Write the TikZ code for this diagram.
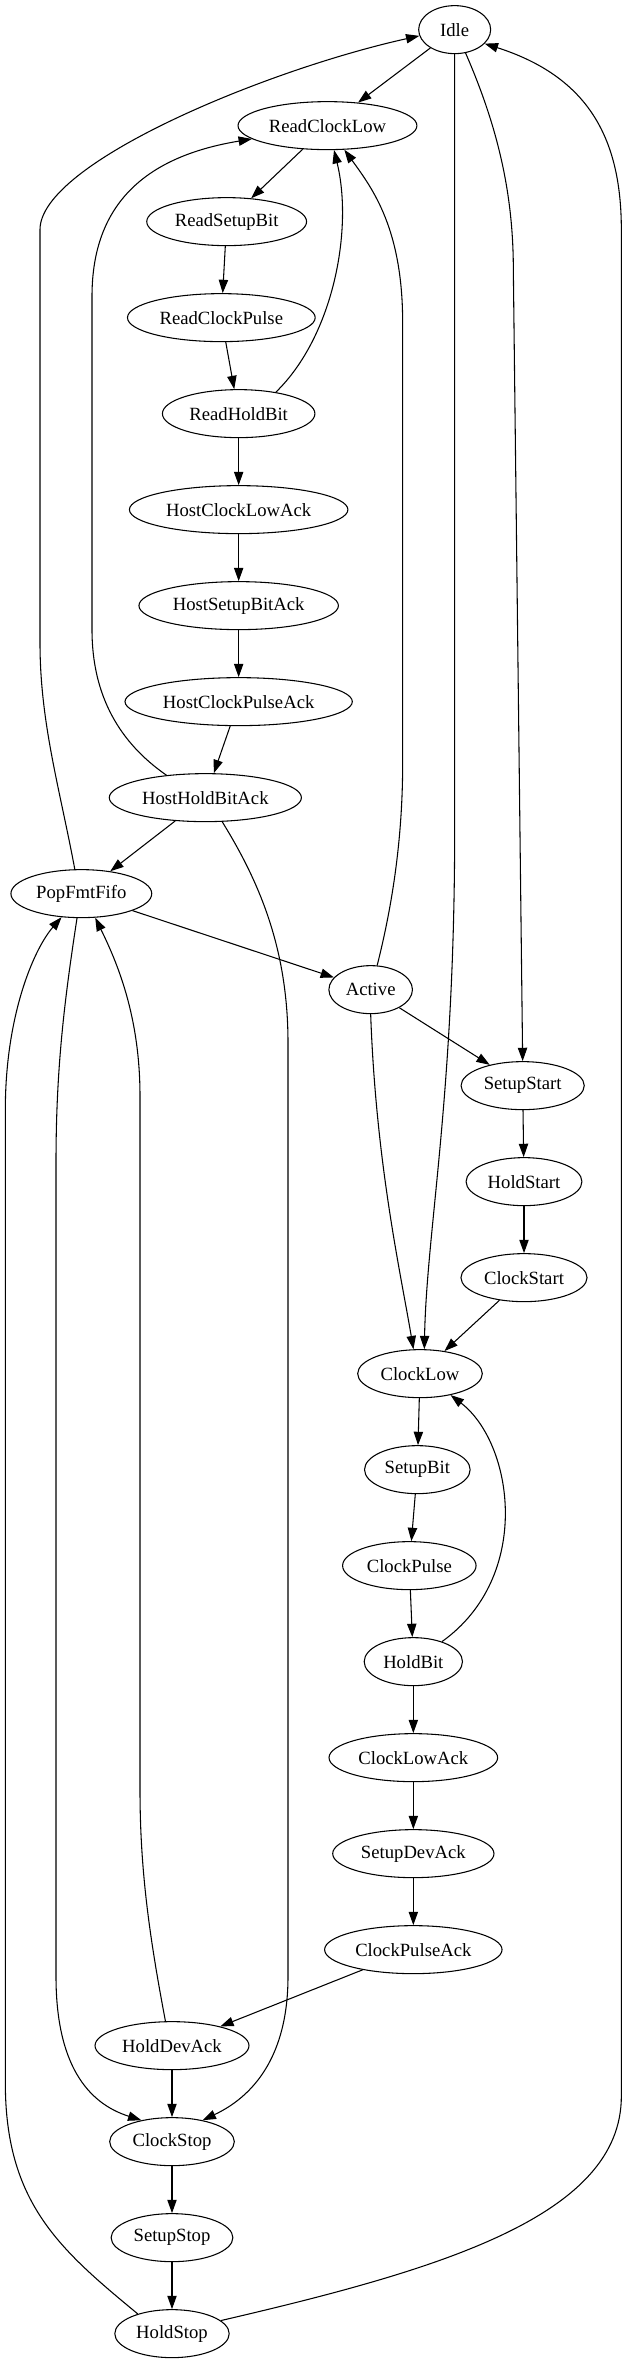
\documentclass[tikz,border=0pt]{standalone}
\usepackage{fontspec}
\setmainfont{Liberation Serif}
\usetikzlibrary{shapes.geometric,arrows.meta}

\begin{document}
\begin{tikzpicture}[x=1pt,y=1pt,
        st/.style={draw, ellipse, line width=0.8pt, inner xsep=3.5pt, inner ysep=3pt,
                   minimum width=54pt, minimum height=36pt,
                   font=\fontsize{14pt}{16pt}\selectfont},
        arr/.style={-{Triangle[length=10pt,width=7pt]}, line width=0.8pt}
      ]
        \useasboundingbox (0,0) rectangle (470.25,1772.25);
        % Idle and host read chain
        \node[st] (idle) at (341,1750) {Idle};
        \node[st] (rcl)  at (245.6,1678) {ReadClockLow};
        \node[st] (rsb)  at (170,1606) {ReadSetupBit};
        \node[st] (rcp)  at (166,1534) {ReadClockPulse};
        \node[st] (rhb)  at (179,1462) {ReadHoldBit};
        \node[st] (hcla) at (179,1390) {HostClockLowAck};
        \node[st] (hsba) at (179,1318) {HostSetupBitAck};
        \node[st] (hcpa) at (179,1246) {HostClockPulseAck};
        \node[st] (hhba) at (154,1174) {HostHoldBitAck};
        \node[st] (pop)  at (61,1102) {PopFmtFifo};
        \node[st] (act)  at (278,1030) {Active};
        % Start sequence
        \node[st] (ss)   at (392,958) {SetupStart};
        \node[st] (hst)  at (393,886) {HoldStart};
        \node[st] (cst)  at (393,814) {ClockStart};
        % Device bit chain
        \node[st] (cl)   at (315,742) {ClockLow};
        \node[st] (sb)   at (313,670) {SetupBit};
        \node[st] (cp)   at (307,598) {ClockPulse};
        \node[st] (hb)   at (310,526) {HoldBit};
        \node[st] (cla)  at (310,454) {ClockLowAck};
        \node[st] (sda)  at (310,382) {SetupDevAck};
        \node[st] (cpa)  at (310,310) {ClockPulseAck};
        % Stop sequence
        \node[st] (hda)  at (129,238) {HoldDevAck};
        \node[st] (cs)   at (129,166) {ClockStop};
        \node[st] (sst)  at (129,94) {SetupStop};
        \node[st] (hs)   at (129,22) {HoldStop};
        % Arrows: read chain
        \draw[arr] (idle) -- (rcl);
        \draw[arr] (rcl) -- (rsb);
        \draw[arr] (rsb) -- (rcp);
        \draw[arr] (rcp) -- (rhb);
        \draw[arr] (rhb) -- (hcla);
        \draw[arr] (hcla) -- (hsba);
        \draw[arr] (hsba) -- (hcpa);
        \draw[arr] (hcpa) -- (hhba);
        \draw[arr] (hhba) -- (pop);
        \draw[arr] (pop) -- (act);
        \draw[arr] (rhb.30) .. controls (250,1520) and (265,1600) .. (rcl.-75);
        \draw[arr] (hhba.150) .. controls (90,1215) and (69,1250) .. (69,1300)
                   -- (69,1550) .. controls (69,1620) and (110,1655) .. (rcl.190);
        \draw[arr] (act.75) .. controls (296,1100) and (302,1150) .. (302,1200)
                   -- (302,1530) .. controls (302,1600) and (280,1630) .. (rcl.-55);
        % Arrows: back to Idle
        \draw[arr] (pop.105) .. controls (45,1180) and (30,1230) .. (30,1290)
                   -- (30,1600) .. controls (30,1650) and (200,1720) .. (idle.190);
        \draw[arr] (hs.15) .. controls (330,70) and (466,110) .. (466,200)
                   -- (466,1600) .. controls (466,1670) and (440,1715) .. (idle.-25);
        % Arrows: Idle and Active to start
        \draw[arr] (idle.-65) .. controls (372,1680) and (385,1630) .. (385,1570)
                   -- (ss.north);
        \draw[arr] (idle.south) -- (341,1150) .. controls (341,950) and (320,850) .. (cl.80);
        \draw[arr] (act) -- (ss);
        \draw[arr] (act.south) .. controls (282,900) and (300,820) .. (cl.105);
        \draw[arr] (ss) -- (hst);
        \draw[arr] (hst) -- (cst);
        \draw[arr] (cst) -- (cl);
        % Arrows: device chain
        \draw[arr] (cl) -- (sb);
        \draw[arr] (sb) -- (cp);
        \draw[arr] (cp) -- (hb);
        \draw[arr] (hb.35) .. controls (400,590) and (385,690) .. (cl.-35);
        \draw[arr] (hb) -- (cla);
        \draw[arr] (cla) -- (sda);
        \draw[arr] (sda) -- (cpa);
        \draw[arr] (cpa) -- (hda);
        % Arrows: stop sequence
        \draw[arr] (hda) -- (cs);
        \draw[arr] (cs) -- (sst);
        \draw[arr] (sst) -- (hs);
        \draw[arr] (hda.105) .. controls (112,320) and (105,370) .. (105,430)
                   -- (105,950) .. controls (105,1010) and (88,1050) .. (pop.-60);
        \draw[arr] (pop.-100) .. controls (48,1020) and (42,970) .. (42,900)
                   -- (42,290) .. controls (42,225) and (65,195) .. (cs.145);
        \draw[arr] (hhba.-55) .. controls (195,1110) and (216,1060) .. (216,990)
                   -- (216,290) .. controls (216,230) and (190,200) .. (cs.35);
        \draw[arr] (hs.150) .. controls (45,85) and (4,120) .. (4,210)
                   -- (4,940) .. controls (4,1010) and (25,1060) .. (pop.-130);
      \end{tikzpicture}
\end{document}
